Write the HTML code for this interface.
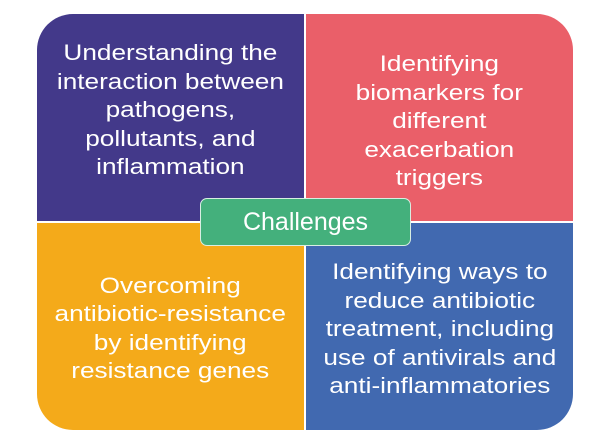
<!DOCTYPE html>
<html><head><style>
html,body{margin:0;padding:0;background:#fff;width:608px;height:448px;overflow:hidden}
.q{position:absolute;color:#fff;font-family:"Liberation Sans",sans-serif;font-size:22px;line-height:28.5px;text-align:center;display:flex;align-items:center;justify-content:center;box-sizing:border-box}
.q span{display:inline-block;transform:scaleX(1.19);white-space:nowrap}
</style></head><body>
<div class="q" style="left:37px;top:14px;width:267px;height:207px;background:#43398a;border-top-left-radius:36px;padding-bottom:14px"><span>Understanding the<br>interaction between<br>pathogens,<br>pollutants, and<br>inflammation</span></div>
<div class="q" style="left:306px;top:14px;width:267px;height:207px;background:#ea5f69;border-top-right-radius:36px;padding-top:8px"><span>Identifying<br>biomarkers for<br>different<br>exacerbation<br>triggers</span></div>
<div class="q" style="left:37px;top:223px;width:267px;height:207px;background:#f4aa1a;border-bottom-left-radius:36px;padding-top:4px"><span>Overcoming<br>antibiotic-resistance<br>by identifying<br>resistance genes</span></div>
<div class="q" style="left:306px;top:223px;width:267px;height:207px;background:#4169b0;border-bottom-right-radius:36px;padding-top:6px"><span>Identifying ways to<br>reduce antibiotic<br>treatment, including<br>use of antivirals and<br>anti-inflammatories</span></div>
<div style="position:absolute;left:200px;top:198px;width:209px;height:46px;background:#44b07c;border:1px solid #d8eee2;border-radius:7px;color:#fff;font-family:'Liberation Sans',sans-serif;font-size:25px;display:flex;align-items:center;justify-content:center">Challenges</div>
</body></html>
